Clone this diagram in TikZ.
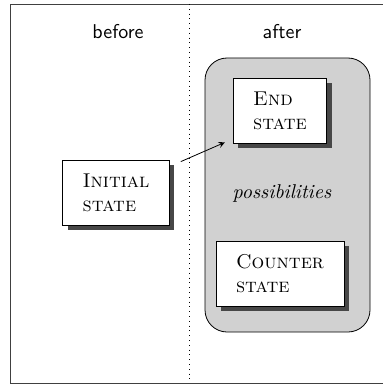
\documentclass[tikz,border=0pt]{standalone}
\usepackage{tikz}
\usetikzlibrary{shadows}

\tikzset{
  state/.style={draw, fill=white, align=left, inner xsep=10pt, minimum height=32.5pt,
    drop shadow={shadow xshift=2.5pt, shadow yshift=-2.5pt, fill=black!72, opacity=1}},
  world/.style={draw, fill=black!18, rounded corners=11pt, minimum width=82.5pt, minimum height=137pt},
  phase/.style={font=\sffamily}
}

\begin{document}
\begin{tikzpicture}[x=0.5pt, y=-0.5pt]
            \useasboundingbox (0, 0) rectangle (383, 385);

            % frame and separator
            \draw[black!75] (383, 4) -- (10, 4) -- (10, 383) -- (383, 383);
            \draw[dotted] (189, 4) -- (189, 383);

            \node[phase] (before) at (118, 32) {before};
            \node[phase] (after) at (282, 32) {after};

            \node[world] (poss) at (287.5, 195) {};
            \node (label) at (282, 193) {\textit{possibilities}};

            \node[state] (init) at (116, 192.5) {\textsc{Initial}\\\textsc{state}};
            \node[state] (end) at (280, 110.5) {\textsc{End}\\\textsc{state}};
            \node[state] (counter) at (280, 273.5) {\textsc{Counter}\\\textsc{state}};

            \draw[->, >=stealth] ([xshift=5.5pt, yshift=-1pt]init.north east) to ([xshift=-4pt, yshift=0.5pt]end.south west);
        \end{tikzpicture}
\end{document}
